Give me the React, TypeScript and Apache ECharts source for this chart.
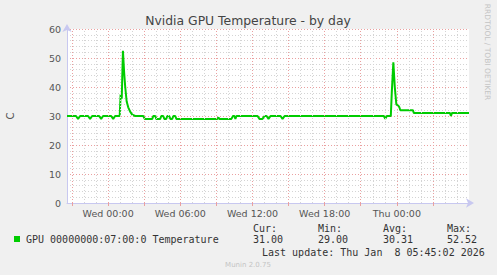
import React, { useEffect, useRef } from "react";
import * as echarts from "echarts";

// hours relative to Wed 00:00
const hours = [
  -3.42, -2.67, -2.5, -2.33, -1.67, -1.5, -1.33, -0.75, -0.58, -0.42, 0.25, 0.42, 0.58,
  0.96, 1.04, 1.13, 1.23, 1.33, 1.42, 1.54, 1.67, 1.83, 2.0, 2.25, 2.92, 3.04, 3.67,
  3.75, 3.92, 4.0, 4.33, 4.42, 4.58, 4.67, 4.83, 4.92, 5.08, 5.17, 5.33, 5.42, 5.58,
  5.67, 9.08, 9.17, 9.25, 10.25, 10.38, 10.5, 10.58, 10.67, 12.42, 12.58, 12.83, 13.0,
  13.17, 13.33, 13.5, 14.33, 14.5, 14.67, 22.92, 23.04, 23.17, 23.5, 23.58, 23.71,
  23.83, 23.96, 24.13, 24.21, 24.29, 25.33, 25.42, 28.42, 28.5, 28.58, 30.0,
];
const temps = [
  30, 30, 29, 30, 30, 29, 30, 30, 29, 30, 30, 29, 30,
  30, 37.5, 36, 52.52, 45, 40, 35, 33, 31.5, 30.5, 30, 30, 29, 29,
  30, 30, 29, 29, 30, 30, 29, 29, 30, 30, 29, 29, 30, 30,
  29, 29, 29.5, 29, 29, 30, 30, 29, 30, 30, 29, 29, 30,
  30, 29, 30, 30, 29, 30, 30, 29, 30, 30, 38, 48.5,
  40, 34, 33.5, 33, 32, 32, 31, 31, 30, 31, 31,
];

const xLabelValues = [0, 6, 12, 18, 24];
const xLabelTexts = ["Wed 00:00", "Wed 06:00", "Wed 12:00", "Wed 18:00", "Thu 00:00"];
const majorGridHours = [-3, 0, 3, 6, 9, 12, 15, 18, 21, 24, 27];
const minorGridHours = [
  -2, -1, 1, 2, 4, 5, 7, 8, 10, 11, 13, 14, 16, 17, 19, 20, 22, 23, 25, 26, 28, 29,
];

const legendName = "GPU 00000000:07:00:0 Temperature";
const statLabels = ["Cur:", "Min:", "Avg:", "Max:"];
const statValues = ["31.00", "29.00", "30.31", "52.52"];
const lastUpdate = "Last update: Thu Jan  8 05:45:02 2026";

export default function App() {
  const ref = useRef<HTMLDivElement>(null);
  useEffect(() => {
    document.body.style.margin = "0";
    const chart = echarts.init(ref.current!, null, { renderer: "svg" });
    const mono = "DejaVu Sans Mono";
    const sans = "DejaVu Sans";
    const statX = [253, 318, 383, 447];
    const gridLines = [
      ...minorGridHours.map((h) => ({
        xAxis: h,
        lineStyle: { color: "#d4d4d4", type: [1, 2], width: 1 },
      })),
      ...majorGridHours.map((h) => ({
        xAxis: h,
        lineStyle: { color: "#eaa0a0", type: [1, 2], width: 1 },
      })),
    ];
    chart.setOption({
      animation: false,
      backgroundColor: "#f0f0f0",
      grid: {
        left: 67,
        right: 28,
        top: 29,
        bottom: 72,
        show: true,
        backgroundColor: "#ffffff",
        borderWidth: 0,
      },
      xAxis: {
        type: "value",
        min: -3.42,
        max: 30,
        axisLine: {
          show: true,
          onZero: false,
          lineStyle: { color: "#c8c8f0", width: 1 },
          symbol: ["none", "arrow"],
          symbolSize: [7, 8],
          symbolOffset: [0, 5],
        },
        axisTick: {
          show: true,
          customValues: majorGridHours,
          length: 3,
          lineStyle: { color: "#eaa0a0" },
        },
        axisLabel: {
          customValues: xLabelValues,
          formatter: (v: number) => {
            const i = xLabelValues.indexOf(Math.round(v));
            return i >= 0 ? xLabelTexts[i] : "";
          },
          color: "#555555",
          fontFamily: sans,
          fontSize: 9.5,
          margin: 5,
        },
        splitLine: { show: false },
      },
      yAxis: {
        type: "value",
        min: 0,
        max: 60,
        interval: 10,
        axisLine: {
          show: true,
          onZero: false,
          lineStyle: { color: "#c8c8f0", width: 1 },
          symbol: ["none", "arrow"],
          symbolSize: [7, 8],
          symbolOffset: [0, 5],
        },
        axisTick: { show: false },
        axisLabel: {
          color: "#555555",
          fontFamily: sans,
          fontSize: 9.5,
          margin: 6,
        },
        splitLine: { lineStyle: { color: "#eaa0a0", type: [1, 2] } },
        minorTick: { show: false, splitNumber: 5 },
        minorSplitLine: { show: true, lineStyle: { color: "#d4d4d4", type: [1, 2] } },
      },
      series: [
        {
          type: "line",
          z: 1,
          data: [[-10, -10]],
          showSymbol: false,
          silent: true,
          lineStyle: { width: 0 },
          markLine: {
            silent: true,
            symbol: ["none", "none"],
            label: { show: false },
            emphasis: { disabled: true },
            data: gridLines,
          },
        },
        {
          type: "line",
          z: 3,
          data: hours.map((h, i) => [h, temps[i]]),
          showSymbol: false,
          lineStyle: { color: "#00cc00", width: 2 },
          itemStyle: { color: "#00cc00" },
        },
      ],
      graphic: [
        {
          type: "text",
          x: 248,
          y: 20,
          style: {
            text: "Nvidia GPU Temperature - by day",
            font: `12.4px "${sans}"`,
            fill: "#444444",
            align: "center",
            verticalAlign: "middle",
          },
        },
        {
          type: "text",
          x: 10,
          y: 116,
          rotation: Math.PI / 2,
          style: {
            text: "C",
            font: `10px "${sans}"`,
            fill: "#555555",
            align: "center",
            verticalAlign: "middle",
          },
        },
        {
          type: "text",
          x: 487,
          y: 52,
          rotation: -Math.PI / 2,
          style: {
            text: "RRDTOOL / TOBI OETIKER",
            font: `7.5px "${sans}"`,
            fill: "#c4c4c4",
            align: "center",
            verticalAlign: "middle",
          },
        },
        {
          type: "rect",
          shape: { x: 14, y: 236, width: 6, height: 6 },
          style: { fill: "#00cc00" },
        },
        {
          type: "text",
          x: 26,
          y: 239.5,
          style: {
            text: legendName,
            font: `10px "${mono}"`,
            fill: "#333333",
            align: "left",
            verticalAlign: "middle",
          },
        },
        ...statLabels.map((t, i) => ({
          type: "text",
          x: statX[i],
          y: 228,
          style: {
            text: t,
            font: `10px "${mono}"`,
            fill: "#333333",
            align: "left",
            verticalAlign: "middle",
          },
        })),
        ...statValues.map((t, i) => ({
          type: "text",
          x: statX[i],
          y: 239.5,
          style: {
            text: t,
            font: `10px "${mono}"`,
            fill: "#333333",
            align: "left",
            verticalAlign: "middle",
          },
        })),
        {
          type: "text",
          x: 262,
          y: 252,
          style: {
            text: lastUpdate,
            font: `10px "${mono}"`,
            fill: "#333333",
            align: "left",
            verticalAlign: "middle",
          },
        },
        {
          type: "text",
          x: 248,
          y: 264.5,
          style: {
            text: "Munin 2.0.75",
            font: `7px "${sans}"`,
            fill: "#c4c4c4",
            align: "center",
            verticalAlign: "middle",
          },
        },
      ],
    });
    return () => chart.dispose();
  }, []);
  return (
    <div
      ref={ref}
      style={{ position: "fixed", left: 0, top: 0, width: 497, height: 275 }}
    />
  );
}
